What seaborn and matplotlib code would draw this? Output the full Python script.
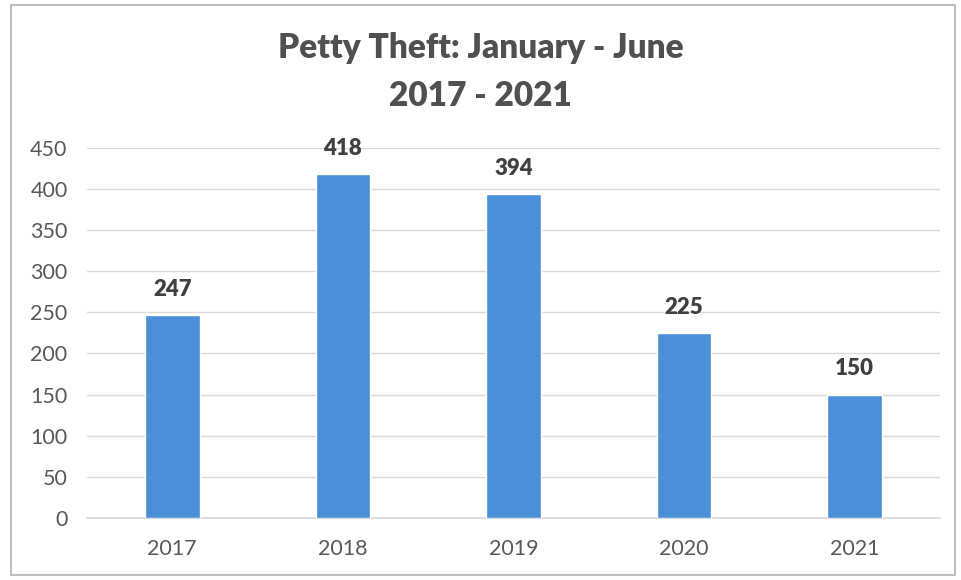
import matplotlib
matplotlib.use("Agg")
import matplotlib.pyplot as plt
import seaborn as sns
import pandas as pd
from matplotlib.patches import Rectangle

years = ["2017", "2018", "2019", "2020", "2021"]
counts = [247, 418, 394, 225, 150]
yticks = [0, 50, 100, 150, 200, 250, 300, 350, 400, 450]

sns.set_theme(style="white")
plt.rcParams["font.family"] = ["Lato", "DejaVu Sans"]

df = pd.DataFrame({"year": years, "count": counts})

fig = plt.figure(figsize=(9.61, 5.8), dpi=100)
ax = fig.add_axes([0.0905, 0.107, 0.8875, 0.638])

sns.barplot(data=df, x="year", y="count", color="#4a8fd8", width=0.32,
            saturation=1, ax=ax, zorder=3)

ax.set_ylim(0, 450)
ax.set_yticks(yticks)
ax.yaxis.grid(True, color="#d9d9d9", linewidth=1, zorder=0)
ax.set_xlabel("")
ax.set_ylabel("")
for s in ["top", "right", "left"]:
    ax.spines[s].set_visible(False)
ax.spines["bottom"].set_color("#d9d9d9")
ax.tick_params(axis="both", length=0, labelsize=15.5, labelcolor="#595959")
ax.tick_params(axis="y", pad=14)
ax.tick_params(axis="x", pad=15)

for patch, v in zip(ax.patches, counts):
    ax.annotate(str(v), (patch.get_x() + patch.get_width() / 2, v),
                xytext=(0, 11), textcoords="offset points",
                ha="center", va="bottom", fontsize=16, fontweight="heavy",
                color="#404040")

fig.text(0.5, 0.917, "Petty Theft: January - June", ha="center", va="center",
         fontsize=24, fontweight="heavy", color="#505050")
fig.text(0.5, 0.834, "2017 - 2021", ha="center", va="center",
         fontsize=24, fontweight="heavy", color="#505050")

fig.patches.append(Rectangle((0.011, 0.009), 0.983, 0.982, transform=fig.transFigure,
                             fill=False, edgecolor="#bfbfbf", linewidth=1.5))

fig.savefig("out.png", dpi=100, facecolor="white")
